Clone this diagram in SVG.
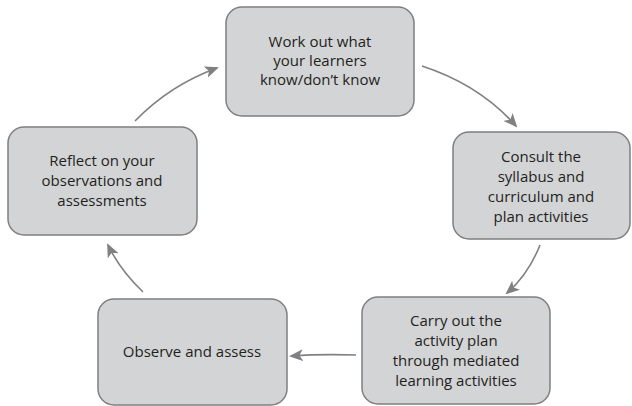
<svg xmlns="http://www.w3.org/2000/svg" width="632" height="406" viewBox="0 0 632 406">
<style>
.box{fill:#d3d4d6;stroke:#7f7f81;stroke-width:1.5}
.t{font-family:"Open Sans",sans-serif;font-size:15px;fill:#231f20;text-anchor:middle}
.c{fill:none;stroke:#808083;stroke-width:1.6}
</style>
<defs>
<marker id="ah" markerWidth="14" markerHeight="12" refX="12" refY="6" orient="auto" markerUnits="userSpaceOnUse">
<path d="M0,0 L14,6 L0,12 L3.5,6 Z" fill="#808083"/>
</marker>
</defs>
<rect width="632" height="406" fill="#fff"/>
<g id="connectors">
<path class="c" d="M422,66 Q480,85 516,126" marker-end="url(#ah)"/>
<path class="c" d="M540,245 Q528,275 507,293" marker-end="url(#ah)"/>
<path class="c" d="M356,355 Q320,354 291,356" marker-end="url(#ah)"/>
<path class="c" d="M143,292 Q120,270 108,245" marker-end="url(#ah)"/>
<path class="c" d="M135,121 Q170,85 217,68" marker-end="url(#ah)"/>
</g>
<g id="n1">
<rect class="box" x="226" y="7" width="188" height="109" rx="16"/>
<text class="t" x="320" y="47">Work out what</text>
<text class="t" x="320" y="66">your learners</text>
<text class="t" x="320" y="85">know/don’t know</text>
</g>
<g id="n2">
<rect class="box" x="453" y="132" width="177" height="107" rx="16"/>
<text class="t" x="541" y="162">Consult the</text>
<text class="t" x="541" y="182">syllabus and</text>
<text class="t" x="541" y="202">curriculum and</text>
<text class="t" x="541" y="222">plan activities</text>
</g>
<g id="n3">
<rect class="box" x="362" y="297" width="188" height="107" rx="16"/>
<text class="t" x="456" y="326">Carry out the</text>
<text class="t" x="456" y="346">activity plan</text>
<text class="t" x="456" y="366">through mediated</text>
<text class="t" x="456" y="386">learning activities</text>
</g>
<g id="n4">
<rect class="box" x="98" y="299" width="189" height="106" rx="16"/>
<text class="t" x="192" y="357">Observe and assess</text>
</g>
<g id="n5">
<rect class="box" x="8" y="127" width="189" height="108" rx="16"/>
<text class="t" x="102" y="166">Reflect on your</text>
<text class="t" x="102" y="186">observations and</text>
<text class="t" x="102" y="206">assessments</text>
</g>
</svg>
